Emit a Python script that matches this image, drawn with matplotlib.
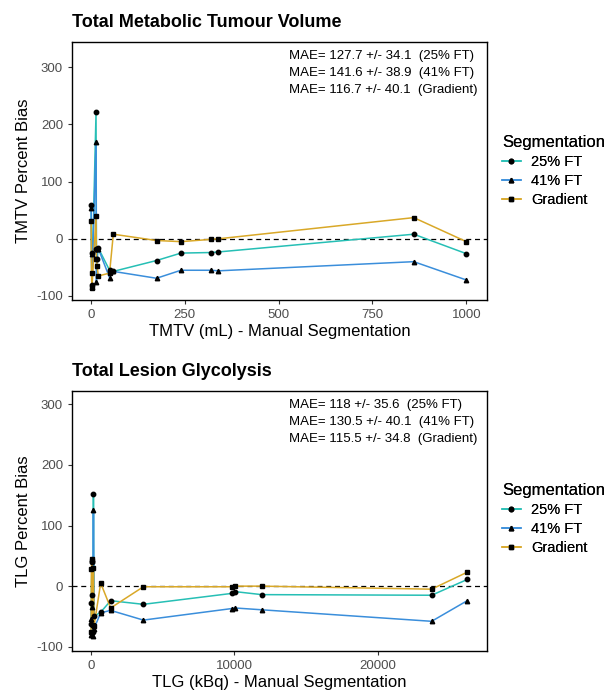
import numpy as np
import matplotlib
matplotlib.use('Agg')
import matplotlib.pyplot as plt
from matplotlib.lines import Line2D

plt.rcParams['font.family'] = ['Liberation Sans', 'DejaVu Sans']
plt.rcParams['axes.unicode_minus'] = False

# TMTV (mL) - manual segmentation vs percent bias
tmtv_x = [1, 2, 3, 14, 15, 17, 20, 50, 60, 175, 240, 320, 340, 860, 1000]
tmtv_ft25 = [59, -25, -80, 221, -18, -35, -16, -55, -57, -38, -25, -24, -23, 8, -26]
tmtv_ft41 = [54, -27, -85, 170, -76, -18, -17, -68, -57, -69, -55, -55, -56, -40, -72]
tmtv_grad = [31, -60, -86, 39, -35, -48, -65, -60, 8, -3, -5, -1, 0, 37, -5]

# TLG (kBq) - manual segmentation vs percent bias
tlg_x = [10, 30, 60, 90, 130, 170, 210, 675, 1370, 3650, 9800, 10030, 11900, 23740, 26220]
tlg_ft25 = [-62, -27, 40, -15, -75, 152, -50, -43, -24, -30, -12, -9, -14, -15, 11]
tlg_ft41 = [-80, -55, 45, -35, -83, 126, -70, -44, -40, -56, -37, -36, -39, -58, -24]
tlg_grad = [-75, 29, 45, 41, -64, 30, -66, 5, -36, -1, -1, 0, 0, -5, 23]

labels = ['25% FT', '41% FT', 'Gradient']
colors = ['#26BFB5', '#3A8EDB', '#D9A828']
markers = ['o', '^', 's']

mae_tmtv = ['MAE= 127.7 +/- 34.1  (25% FT)',
            'MAE= 141.6 +/- 38.9  (41% FT)',
            'MAE= 116.7 +/- 40.1  (Gradient)']
mae_tlg = ['MAE= 118 +/- 35.6  (25% FT)',
           'MAE= 130.5 +/- 40.1  (41% FT)',
           'MAE= 115.5 +/- 34.8  (Gradient)']

fig = plt.figure(figsize=(6.08, 6.91), dpi=100)
ax1 = fig.add_axes([72/608, 1-300/691, 415/608, 258/691])
ax2 = fig.add_axes([72/608, 1-651/691, 415/608, 260/691])


def panel(ax, x, ys, title, xlabel, ylabel, mae, xlim, ylim, xticks):
    for y, c, m in zip(ys, colors, markers):
        ax.plot(x, y, color=c, lw=1.1, zorder=2)
        ax.plot(x, y, ls='none', marker=m, color='black', ms=3.2, zorder=3)
    ax.axhline(0, color='black', ls=(0, (4, 3)), lw=0.9, zorder=1)
    ax.set_xlim(xlim)
    ax.set_ylim(ylim)
    ax.set_xticks(xticks)
    ax.set_yticks([-100, 0, 100, 200, 300])
    ax.tick_params(labelsize=9.5, colors='#4D4D4D', length=3, width=0.8)
    ax.tick_params(labelcolor='#4D4D4D', color='#333333')
    for s in ax.spines.values():
        s.set_linewidth(1.0)
    ax.set_xlabel(xlabel, fontsize=12, labelpad=2)
    ax.set_ylabel(ylabel, fontsize=12, labelpad=4)
    ax.set_title(title, loc='left', fontsize=13, fontweight='bold', pad=11)
    for i, t in enumerate(mae):
        ax.text(0.522, 0.97 - i*0.066, t, transform=ax.transAxes,
                fontsize=9.5, va='top', ha='left')


panel(ax1, tmtv_x, [tmtv_ft25, tmtv_ft41, tmtv_grad],
      'Total Metabolic Tumour Volume', 'TMTV (mL) - Manual Segmentation',
      'TMTV Percent Bias', mae_tmtv, (-50, 1055), (-107, 344),
      [0, 250, 500, 750, 1000])
panel(ax2, tlg_x, [tlg_ft25, tlg_ft41, tlg_grad],
      'Total Lesion Glycolysis', 'TLG (kBq) - Manual Segmentation',
      'TLG Percent Bias', mae_tlg, (-1324, 27600), (-107, 322),
      [0, 10000, 20000])

handles = [Line2D([0], [0], color=c, lw=1.1, marker=m, mfc='black',
                  mec='black', ms=3.2) for c, m in zip(colors, markers)]
for yy in [1-129/691, 1-477/691]:
    leg = fig.legend(handles, labels, title='Segmentation', loc='upper left',
                     bbox_to_anchor=(496/608, yy), frameon=False, fontsize=10.5,
                     title_fontsize=12, handlelength=1.3, handletextpad=0.7,
                     labelspacing=0.35, borderaxespad=0)
    leg._legend_box.align = 'left'
    fig.add_artist(leg)

fig.savefig('out.png', dpi=100)
